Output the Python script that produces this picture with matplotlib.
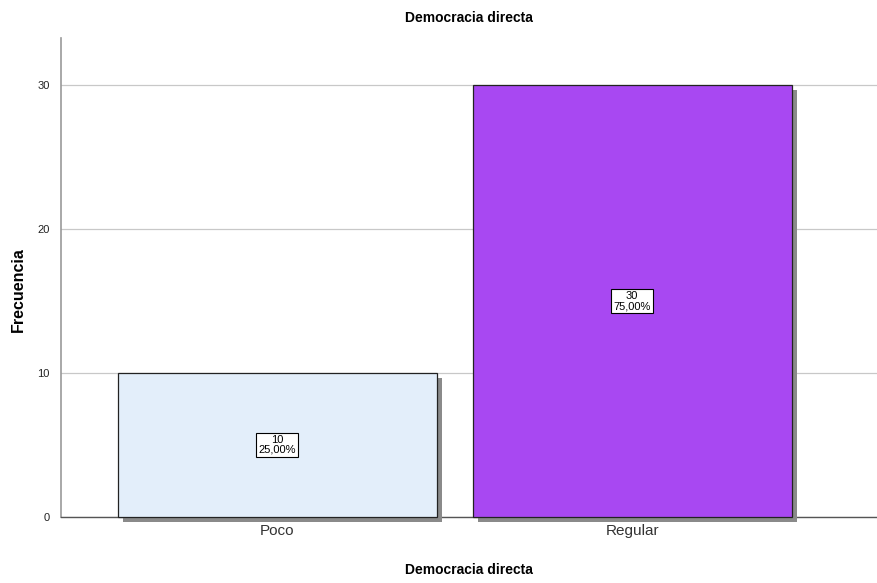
import matplotlib
matplotlib.use('Agg')
import matplotlib.pyplot as plt
import matplotlib.patheffects as pe

plt.rcParams['font.family'] = ['Liberation Sans', 'DejaVu Sans']

# Data
categories = ['Poco', 'Regular']
counts = [10, 30]
percents = ['25,00%', '75,00%']
colors = ['#e3eefa', '#a848f2']
y_ticks = [0, 10, 20, 30]

fig = plt.figure(figsize=(8.77, 5.83), dpi=100)
ax = fig.add_axes([61 / 877, 1 - 517 / 583, 1 - 61 / 877, (517 - 38) / 583])

x = list(range(len(categories)))
bars = ax.bar(x, counts, width=0.9, color=colors, edgecolor='#222222', linewidth=0.9, zorder=3)
for b in bars:
    b.set_clip_on(False)
    b.set_path_effects([pe.SimplePatchShadow(offset=(3.6, -3.6), shadow_rgbFace='#8a8a8a', alpha=1.0),
                        pe.Normal()])

for xi, c, p in zip(x, counts, percents):
    ax.text(xi, c / 2, f'{c}\n{p}', ha='center', va='center', fontsize=8, linespacing=0.95,
            zorder=5, bbox=dict(boxstyle='square,pad=0.2', facecolor='white', edgecolor='black', linewidth=0.8))

ax.set_xlim(-0.61, 1.69)
ax.set_ylim(0, 33.3)
ax.set_yticks(y_ticks)
ax.set_yticklabels([str(t) for t in y_ticks], fontsize=8, color='#222222')
ax.set_xticks(x)
ax.set_xticklabels(categories, fontsize=11, color='#333333')
ax.tick_params(axis='x', length=0, pad=5)
ax.tick_params(axis='y', length=0, pad=8)

ax.grid(axis='y', color='#c8c8c8', linewidth=0.9, zorder=0)
for s in ['top', 'right']:
    ax.spines[s].set_visible(False)
ax.spines['left'].set_color('#999999')
ax.spines['left'].set_linewidth(1.2)
ax.spines['bottom'].set_color('#555555')
ax.spines['bottom'].set_linewidth(1.0)

fig.text(469 / 877, 1 - 18 / 583, 'Democracia directa', ha='center', va='center',
         fontsize=10, fontweight='bold')
fig.text(469 / 877, 1 - 570 / 583, 'Democracia directa', ha='center', va='center',
         fontsize=10, fontweight='bold')
fig.text(18 / 877, 1 - 290 / 583, 'Frecuencia', ha='center', va='center', rotation=90,
         fontsize=11.5, fontweight='bold')

fig.savefig('out.png', dpi=100)
